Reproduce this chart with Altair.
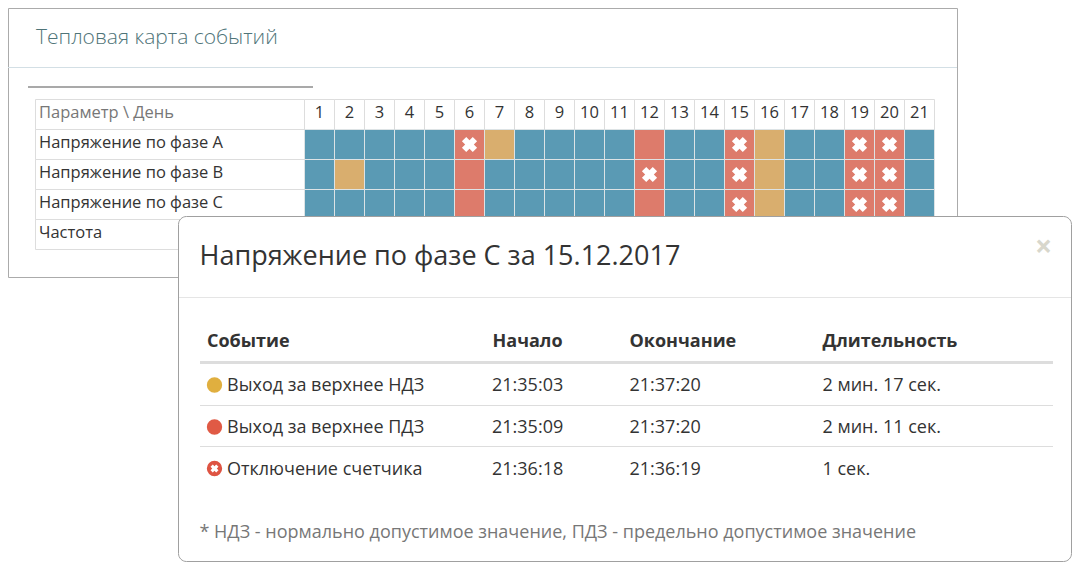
import altair as alt
import pandas as pd

FONT = "Open Sans"
OX, OY = 8, 8  # page margin: picture position -> plot position

header_label = "Параметр \\ День"
row_names = ["Напряжение по фазе A", "Напряжение по фазе B", "Напряжение по фазе C", "Частота"]
days = list(range(1, 22))

warn_cells = {"Напряжение по фазе A": [7, 16], "Напряжение по фазе B": [2, 16], "Напряжение по фазе C": [16]}
limit_cells = {"Напряжение по фазе A": [6, 12, 15, 19, 20], "Напряжение по фазе B": [6, 12, 15, 19, 20], "Напряжение по фазе C": [6, 12, 15, 19, 20]}
off_cells = {"Напряжение по фазе A": [6, 15, 19, 20], "Напряжение по фазе B": [12, 15, 19, 20], "Напряжение по фазе C": [15, 19, 20]}

panel_title = "Тепловая карта событий"
modal_title = "Напряжение по фазе C за 15.12.2017"
columns = ["Событие", "Начало", "Окончание", "Длительность"]
events = ["Выход за верхнее НДЗ", "Выход за верхнее ПДЗ", "Отключение счетчика"]
starts = ["21:35:03", "21:35:09", "21:36:18"]
ends = ["21:37:20", "21:37:20", "21:36:19"]
durations = ["2 мин. 17 сек.", "2 мин. 11 сек.", "1 сек."]
footnote = "* НДЗ - нормально допустимое значение, ПДЗ - предельно допустимое значение"

TEAL, RED, AMBER = "#5a9ab4", "#dd7b6b", "#d9ae6e"

cells = []
for r in row_names[:3]:
    for d in days:
        status = "limit" if d in limit_cells[r] else "warn" if d in warn_cells[r] else "ok"
        cells.append({"row": r, "day": d, "status": status})
cells = pd.DataFrame(cells)
offs = pd.DataFrame([{"row": r, "day": d} for r, ds in off_cells.items() for d in ds])
day_df = pd.DataFrame({"day": days})
row_df = pd.DataFrame({"row": [header_label] + row_names})
one = pd.DataFrame({"a": [0]})

X_DAY = alt.X("day:O", axis=None, scale=alt.Scale(domain=days, range=[304.5 - OX, 934.5 - OX], paddingInner=0, paddingOuter=0, round=False))
Y_ROW = alt.Y("row:N", axis=None, sort=None, scale=alt.Scale(domain=[header_label] + row_names, range=[99.5 - OY, 249.5 - OY], paddingInner=0, paddingOuter=0, round=False))


def px(v):
    return alt.value(v - OX)


def py(v):
    return alt.value(v - OY)


def box(x1, y1, x2, y2, fill="#ffffff", stroke="#ababab", radius=0, width=1):
    return alt.Chart(one).mark_rect(fill=fill, stroke=stroke, strokeWidth=width, cornerRadius=radius).encode(
        x=px(x1), x2=px(x2), y=py(y1), y2=py(y2))


def hline(x1, x2, y, color, width=1):
    return alt.Chart(one).mark_rule(color=color, strokeWidth=width).encode(x=px(x1), x2=px(x2), y=py(y))


def label(text, x, y, size=18, color="#333333", weight=400, align="left"):
    return alt.Chart(one).mark_text(text=text, font=FONT, fontSize=size, color=color, fontWeight=weight,
                                    align=align, baseline="middle").encode(x=px(x), y=py(y))


def dot(x, y, color, size=235):
    return alt.Chart(one).mark_point(shape="circle", filled=True, opacity=1, color=color, size=size).encode(x=px(x), y=py(y))


layers = [
    # outer panel
    box(8.5, 8.5, 957.5, 277.5, stroke="#ababab"),
    hline(8, 957, 67.5, "#d3dfe5"),
    hline(28, 313, 87, "#a9a9a9", 2),
    label(panel_title, 36, 37.5, size=21, color="#4f7478", weight=300),
    # heat map table
    alt.Chart(row_df).mark_rect(fill="#ffffff", stroke="#dddddd").encode(x=px(35.5), x2=px(304.5), y=Y_ROW),
    alt.Chart(day_df).mark_rect(fill="#ffffff", stroke="#dddddd").encode(x=X_DAY, y=py(99.5), y2=py(129.5)),
    alt.Chart(cells).mark_rect(stroke="#dde3e5", strokeWidth=1).encode(
        x=X_DAY, y=Y_ROW,
        color=alt.Color("status:N", legend=None, scale=alt.Scale(domain=["ok", "warn", "limit"], range=[TEAL, AMBER, RED]))),
    alt.Chart(offs).mark_point(shape="cross", filled=True, opacity=1, color="#ffffff", angle=45, size=235).encode(x=X_DAY, y=Y_ROW),
    alt.Chart(day_df).mark_text(font=FONT, fontSize=16.5, color="#333333", baseline="middle").encode(x=X_DAY, y=py(112.5), text="day:O"),
    alt.Chart(row_df).mark_text(font=FONT, fontSize=16.5, color="#333333", align="left", baseline="middle", dy=-2).encode(
        x=px(39), y=Y_ROW, text="row:N",
        color=alt.condition(alt.datum.row == header_label, alt.value("#777777"), alt.value("#333333"))),
    # modal
    box(178.5, 216.5, 1071.5, 561.5, stroke="#a0a0a0", radius=8),
    label(modal_title, 199.5, 257, size=27, color="#333333"),
    label("×", 1043.5, 248, size=30, color="#d8d7cc", weight=700, align="center"),
    hline(179, 1071, 297.5, "#e5e5e5"),
    hline(200, 1053, 362.5, "#dddddd", 3),
    hline(200, 1053, 405.5, "#dddddd"),
    hline(200, 1053, 446.5, "#dddddd"),
    label(footnote, 199.5, 532.5, color="#777777"),
    dot(214.5, 385, "#e0af3f"),
    dot(214.5, 427, "#e05a45"),
    dot(214.5, 468.5, "#de5443"),
    alt.Chart(one).mark_point(shape="cross", filled=True, opacity=1, color="#ffffff", angle=45, size=65).encode(x=px(214.5), y=py(468.5)),
]

col_x = [207, 492.5, 629.5, 822.5]
for name, x in zip(columns, col_x):
    layers.append(label(name, x, 341.5, weight=700))

row_y = [386, 428, 469.5]
for i, y in enumerate(row_y):
    layers.append(label(events[i], 227, y))
    layers.append(label(starts[i], 492, y))
    layers.append(label(ends[i], 629.5, y))
    layers.append(label(durations[i], 822.5, y))

chart = alt.layer(*layers).properties(
    width=1065, height=555, padding=0, autosize=alt.AutoSizeParams(type="none"), background="#ffffff"
).configure_view(stroke=None)

chart.save("out.html", embed_options={"renderer": "svg", "actions": False})
